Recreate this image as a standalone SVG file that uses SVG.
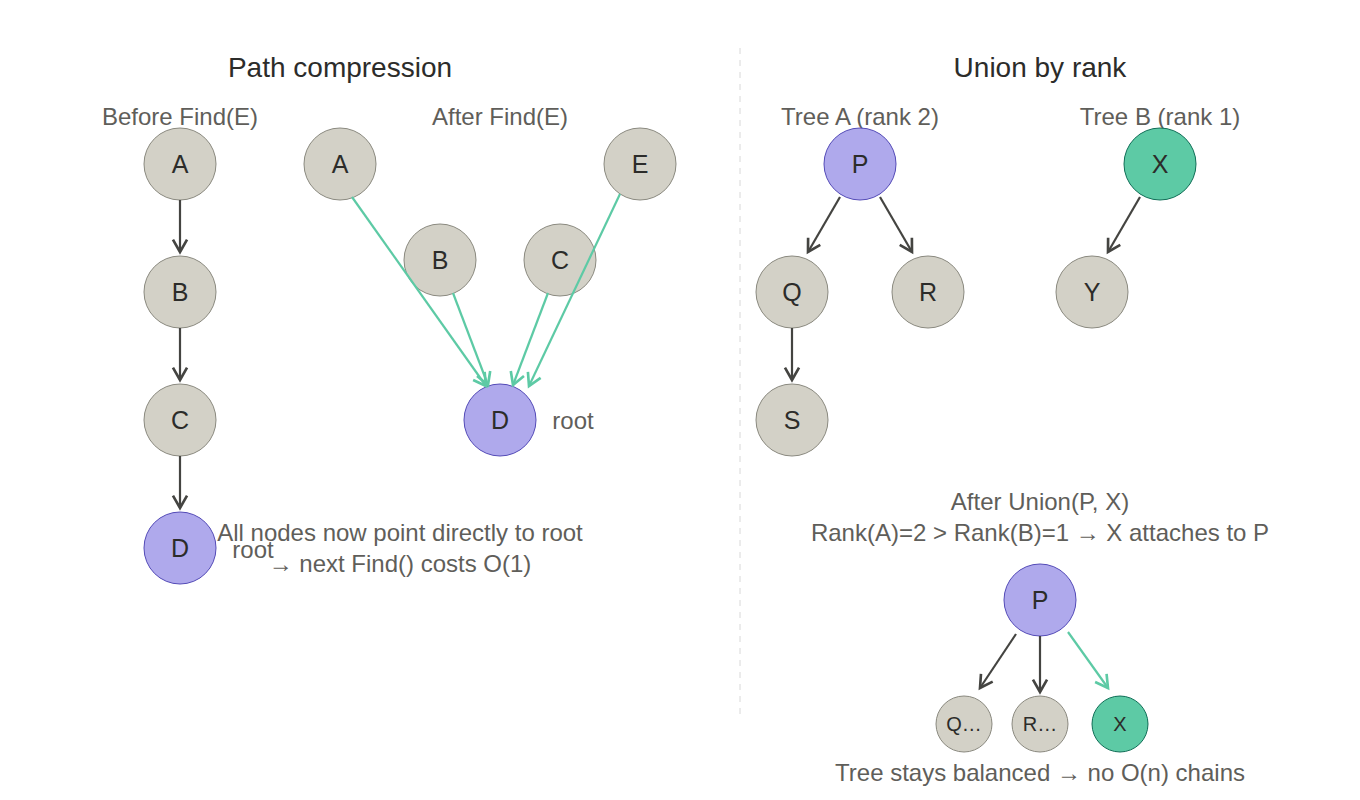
<svg xmlns="http://www.w3.org/2000/svg" width="1360" height="800" viewBox="0 0 1360 800">
<style>
text{font-family:"Liberation Sans",Arial,sans-serif;text-anchor:middle;dominant-baseline:central}
.t{font-size:28px;fill:#2c2c2a}.s{font-size:24px;fill:#5f5e5a}
.g{fill:#d3d1c7;stroke:#8a897f;stroke-width:1}.p{fill:#afa9ec;stroke:#534ab7;stroke-width:1}.x{fill:#5dcaa5;stroke:#0f6e56;stroke-width:1}
.l{font-size:25px;fill:#2c2c2a}.sm{font-size:20px;fill:#2c2c2a}
.a{stroke:#444441;stroke-width:2.2;fill:none;marker-end:url(#ad)}.ag{stroke:#5dcaa5;stroke-width:2.2;fill:none;marker-end:url(#ag)}
</style>
<defs>
<marker id="ad" viewBox="0 0 10 10" refX="8" refY="5" markerWidth="8" markerHeight="8" orient="auto-start-reverse"><path d="M1 1L8 5L1 9" fill="none" stroke="#444441" stroke-width="1.5"/></marker>
<marker id="ag" viewBox="0 0 10 10" refX="8" refY="5" markerWidth="8" markerHeight="8" orient="auto-start-reverse"><path d="M1 1L8 5L1 9" fill="none" stroke="#5dcaa5" stroke-width="1.5"/></marker>
</defs>
<rect width="1360" height="800" fill="#fff"/>
<line x1="740" y1="48" x2="740" y2="720" stroke="#d8d8d8" stroke-dasharray="6 6"/>
<text class="t" x="340" y="67">Path compression</text>
<text class="t" x="1040" y="67">Union by rank</text>
<text class="s" x="180" y="116">Before Find(E)</text>
<text class="s" x="500" y="116">After Find(E)</text>
<text class="s" x="860" y="116">Tree A (rank 2)</text>
<text class="s" x="1160" y="116">Tree B (rank 1)</text>
<g id="bA"><circle class="g" cx="180" cy="164" r="36"/><text class="l" x="180" y="164">A</text></g>
<g id="bB"><circle class="g" cx="180" cy="292" r="36"/><text class="l" x="180" y="292">B</text></g>
<g id="bC"><circle class="g" cx="180" cy="420" r="36"/><text class="l" x="180" y="420">C</text></g>
<g id="bD"><circle class="p" cx="180" cy="548" r="36"/><text class="l" x="180" y="548">D</text></g>
<g id="aA"><circle class="g" cx="340" cy="164" r="36"/><text class="l" x="340" y="164">A</text></g>
<g id="aE"><circle class="g" cx="640" cy="164" r="36"/><text class="l" x="640" y="164">E</text></g>
<g id="aB"><circle class="g" cx="440" cy="260" r="36"/><text class="l" x="440" y="260">B</text></g>
<g id="aC"><circle class="g" cx="560" cy="260" r="36"/><text class="l" x="560" y="260">C</text></g>
<g id="aD"><circle class="p" cx="500" cy="420" r="36"/><text class="l" x="500" y="420">D</text></g>
<text class="s" x="573" y="420">root</text>
<text class="s" x="253" y="549">root</text>
<text class="s" x="400" y="532">All nodes now point directly to root</text>
<text class="s" x="400" y="563">→ next Find() costs O(1)</text>
<g id="P"><circle class="p" cx="860" cy="164" r="36"/><text class="l" x="860" y="164">P</text></g>
<g id="X"><circle class="x" cx="1160" cy="164" r="36"/><text class="l" x="1160" y="164">X</text></g>
<g id="Q"><circle class="g" cx="792" cy="292" r="36"/><text class="l" x="792" y="292">Q</text></g>
<g id="R"><circle class="g" cx="928" cy="292" r="36"/><text class="l" x="928" y="292">R</text></g>
<g id="Y"><circle class="g" cx="1092" cy="292" r="36"/><text class="l" x="1092" y="292">Y</text></g>
<g id="S"><circle class="g" cx="792" cy="420" r="36"/><text class="l" x="792" y="420">S</text></g>
<text class="s" x="1040" y="501">After Union(P, X)</text>
<text class="s" x="1040" y="532">Rank(A)=2 &gt; Rank(B)=1 → X attaches to P</text>
<g id="P2"><circle class="p" cx="1040" cy="600" r="36"/><text class="l" x="1040" y="600">P</text></g>
<g id="Q2"><circle class="g" cx="964" cy="724" r="28"/><text class="sm" x="964" y="724">Q…</text></g>
<g id="R2"><circle class="g" cx="1040" cy="724" r="28"/><text class="sm" x="1040" y="724">R…</text></g>
<g id="X2"><circle class="x" cx="1120" cy="724" r="28"/><text class="sm" x="1120" y="724">X</text></g>
<text class="s" x="1040" y="772">Tree stays balanced → no O(n) chains</text>
<g id="connectors">
<path class="a" d="M180 200V252"/><path class="a" d="M180 328V380"/><path class="a" d="M180 456V508"/>
<path class="ag" d="M352 197L486 386"/><path class="ag" d="M453 293L488 385"/><path class="ag" d="M548 293L513 385"/><path class="ag" d="M620 194L529 386"/>
<path class="a" d="M840 197L808 252"/><path class="a" d="M880 197L912 252"/><path class="a" d="M792 328V380"/><path class="a" d="M1140 197L1108 252"/>
<path class="a" d="M1016 634L980 688"/><path class="a" d="M1040 636V692"/><path class="ag" d="M1068 632L1108 688"/>
</g>
</svg>
